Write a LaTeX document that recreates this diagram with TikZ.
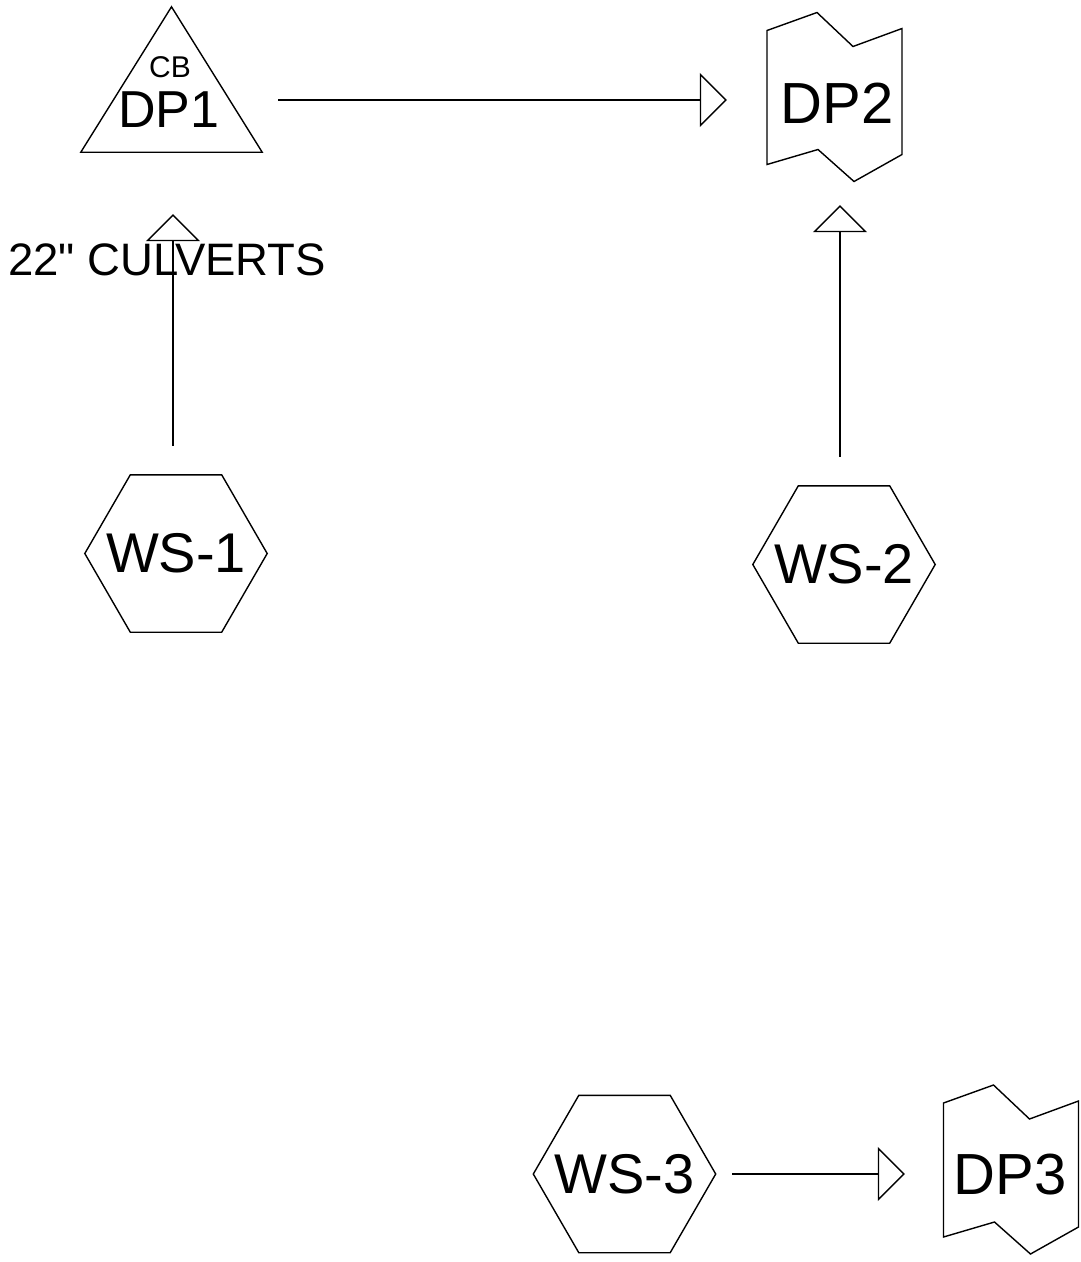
\documentclass[tikz,border=0pt]{standalone}
\usepackage{fontspec}
\setmainfont{Liberation Sans}[Ligatures=TeXOff]
\usetikzlibrary{arrows.meta}

% outline of a design-point flag, drawn round a named box node
\newcommand\flagoutline[1]{%
  \draw[outline] ([shift={(-67.5,-66.5)}]#1.center) -- ++(50,-18) -- ++(36,34)
    -- ++(49,-18) -- ++(0,126) -- ++(-48,27) -- ++(-36,-32) -- ++(-51,15) -- cycle;}
% outline of a watershed hexagon, drawn round a named box node
\newcommand\hexoutline[1]{%
  \draw[outline] (#1.west) -- ([xshift=45.5pt]#1.north west) -- ([xshift=-45.5pt]#1.north east)
    -- (#1.east) -- ([xshift=-45.5pt]#1.south east) -- ([xshift=45.5pt]#1.south west) -- cycle;}

\begin{document}
\begin{tikzpicture}[x=1pt,y=-1pt,
  outline/.style={draw=black, line width=1.4pt, line join=miter},
  hexbox/.style={inner sep=0pt, minimum width=182pt, minimum height=157pt,
    font=\fontsize{56}{56}\selectfont},
  shapebox/.style={inner sep=0pt, draw=none},
  bigtext/.style={inner sep=0pt, font=\fontsize{#1}{#1}\selectfont},
  flow/.style={line width=1.4pt,
    -{Triangle[open, length=27pt, width=54pt]}}]

\path[fill=white] (0,0) rectangle (1081,1262);
\useasboundingbox (0,0) rectangle (1081,1262);

% design point DP1 (triangle)
\node[shapebox, minimum width=181pt, minimum height=145pt] (dp1) at (171.5,79.5) {};
\draw[outline] (dp1.south west) -- (dp1.north) -- (dp1.south east) -- cycle;
\node[bigtext=30] (cb) at (170,67.5) {CB};
\node[bigtext=52] (dp1lbl) at (169,110) {DP1};

% design points DP2 and DP3 (flags)
\node[shapebox, minimum width=135pt, minimum height=169pt] (dp2) at (834.5,97) {};
\flagoutline{dp2}
\node[bigtext=58] (dp2lbl) at (837,103.5) {DP2};

\node[shapebox, minimum width=135pt, minimum height=169pt] (dp3) at (1011,1169.5) {};
\flagoutline{dp3}
\node[bigtext=58] (dp3lbl) at (1010,1175) {DP3};

% watersheds
\node[hexbox] (ws1) at (176,553.5) {WS-1};
\hexoutline{ws1}
\node[hexbox] (ws2) at (844,564.5) {WS-2};
\hexoutline{ws2}
\node[hexbox] (ws3) at (624.5,1174) {WS-3};
\hexoutline{ws3}

% flow connectors
\coordinate (dp1out) at ([yshift=-20.5pt]dp1.east);
\draw[flow, shorten <=16pt, shorten >=40pt] (dp1out) -- (dp1out -| dp2.west);
\draw[flow, shorten <=29pt, shorten >=62pt] ([xshift=-3pt]ws1.north) -- ([xshift=-3pt]ws1.north |- dp1.south);
\draw[flow, shorten <=29pt, shorten >=23.5pt] ([xshift=-4pt]ws2.north) -- ([xshift=-4pt]ws2.north |- dp2.south);
\draw[flow, shorten <=16.5pt, shorten >=38.5pt] (ws3.east) -- (ws3.east -| dp3.west);

% culvert note
\node[bigtext=45.5, anchor=base west] (culv) at (8,275) {22" CULVERTS};
\end{tikzpicture}
\end{document}
